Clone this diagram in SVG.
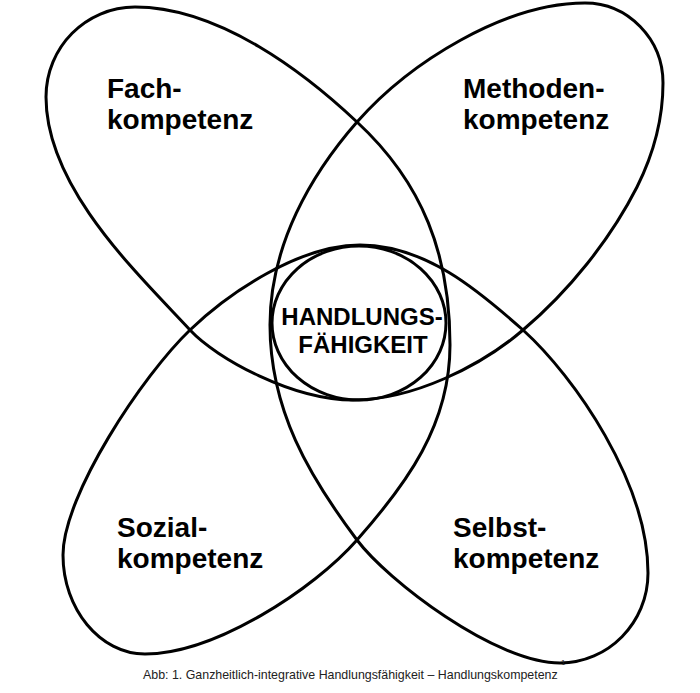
<svg xmlns="http://www.w3.org/2000/svg" width="700" height="693" viewBox="0 0 700 693">
<style>
.petal{fill:none;stroke:#000;stroke-width:3;stroke-linejoin:round;stroke-linecap:round}
.lbl{font-family:"Liberation Sans",Arial,sans-serif;font-weight:bold;font-size:28px;fill:#000}
.ctr{font-family:"Liberation Sans",Arial,sans-serif;font-weight:bold;font-size:24px;fill:#000}
.cap{font-family:"Liberation Sans",Arial,sans-serif;font-size:12.4px;fill:#222}
</style>
<rect width="700" height="693" fill="#fff"/>
<g id="fach">
<path class="petal" d="M357,122 C306,74 220,7 135,7 C86,7 46,47 46,97 C46,187 136,272 190,330 C217,359 293,400 353,400 C413,400 481,366 523,330"/>
<text class="lbl" x="107" y="98">Fach-</text>
<text class="lbl" x="107" y="129">kompetenz</text>
</g>
<g id="methoden">
<path class="petal" d="M523,330 C569,291 610,240 637,187 C653,155 663,119 663,83 C663,39 628,3 585,3 C505,3 410,62 357,122 C311,174.5 270,245 270,325 C270,410 309,476 357,540"/>
<text class="lbl" x="463" y="98">Methoden-</text>
<text class="lbl" x="463" y="129">kompetenz</text>
</g>
<g id="selbst">
<path class="petal" d="M357,540 C387,580 495,663 560,663 C608,663 648,623 648,573 C648,483 575,377 523,330 C478,290 425,245 360,245 C300,245 229.6,292 190,330"/>
<text class="lbl" x="453" y="537">Selbst-</text>
<text class="lbl" x="453" y="568">kompetenz</text>
</g>
<g id="sozial">
<path class="petal" d="M190,330 C143,375 63,495 63,555 C63,609 100,654 145,654 C215,654 314,589 357,540 C406.5,484 450,425 450,345 C450,255 423,183 357,122"/>
<text class="lbl" x="117" y="537">Sozial-</text>
<text class="lbl" x="117" y="568">kompetenz</text>
</g>
<g id="handlungsfaehigkeit">
<ellipse class="petal" cx="359" cy="323" rx="87" ry="77"/>
<text class="ctr" x="362" y="325" text-anchor="middle">HANDLUNGS-</text>
<text class="ctr" x="363" y="353" text-anchor="middle">FÄHIGKEIT</text>
</g>
<g id="caption">
<text class="cap" x="143" y="679">Abb: 1. Ganzheitlich-integrative Handlungsfähigkeit – Handlungskompetenz</text>
<text class="cap" x="561" y="665" style="font-size:8px">1</text>
</g>
</svg>
